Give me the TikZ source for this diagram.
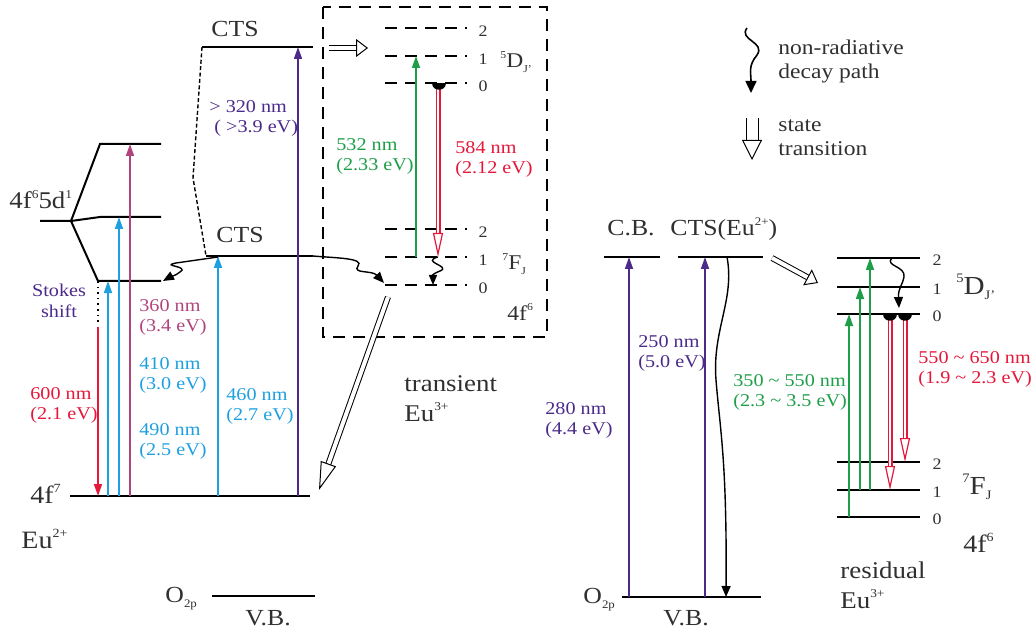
\documentclass[tikz,border=0pt]{standalone}
\usepackage{fontspec}
\setmainfont{Liberation Serif}[FakeStretch=1.12]
\usepackage{graphicx}
\usepackage{xcolor}
\definecolor{cpurple}{HTML}{4B2A8A}
\definecolor{cmag}{HTML}{B0457E}
\definecolor{cblue}{HTML}{1E9FE0}
\definecolor{cred}{HTML}{E5173A}
\definecolor{cgreen}{HTML}{1E9E48}
\definecolor{txt}{HTML}{303030}
\newcommand{\supr}[1]{\raisebox{0.95ex}{\scalebox{0.5}{#1}}}
\newcommand{\subr}[1]{\raisebox{-0.5ex}{\scalebox{0.5}{#1}}}
\usetikzlibrary{arrows.meta}
\tikzset{
  lv/.style={line width=1pt},
  dlv/.style={line width=1pt, dash pattern=on 6pt off 4pt},
  ar/.style={line width=0.8pt, -{Triangle[length=6pt,width=4pt]}},
  wv/.style={line width=0.7pt, -{Triangle[length=5.5pt,width=4.5pt]}},
  tr/.style={draw=black, double=white, line width=0.5pt, double distance=2pt,
             -{Triangle[open,length=6pt,width=9pt,line width=0.5pt]}},
  em/.style={draw=cred, double=white, line width=0.6pt, double distance=1.3pt,
             -{Triangle[open,length=12pt,width=5pt,line width=0.6pt]}},
  lbl/.style={font=\fontsize{9}{10.2}\selectfont, align=left, inner sep=0pt, anchor=north west},
  big/.style={font=\fontsize{11.5}{13}\selectfont, inner sep=0pt, anchor=base west, text=txt},
  num/.style={font=\fontsize{8}{9}\selectfont, inner sep=0pt, text=txt},
  captxt/.style={font=\fontsize{12}{15}\selectfont, align=left, inner sep=0pt, anchor=north west, text=txt},
}

\begin{document}
\begin{tikzpicture}[x=0.5pt,y=-0.5pt]
\useasboundingbox (0,0) rectangle (1031,630);

% Eu2+ levels
\coordinate (f7a) at (70,496); \coordinate (f7b) at (310,496);
\draw[lv] (f7a) -- (f7b);
\node[big, font=\fontsize{12.5}{14}\selectfont] (n4f7) at (30,503) {4f\supr{7}};
\node[big, font=\fontsize{12.5}{14}\selectfont] (neua) at (21,548) {Eu\supr{2+}};
\coordinate (vba) at (212,596);
\draw[lv] (vba) -- (315,596);
\node[big] (no2a) at (165,602) {O\subr{2p}};
\node[big] (nvba) at (245,625) {V.B.};

\coordinate (d5) at (71,221);
\coordinate (d5h) at (100,144); \coordinate (d5m) at (100,217); \coordinate (d5l) at (98,281);
\draw[lv] (40,221) -- (d5) -- (d5h) -- (161,144);
\draw[lv] (d5) -- (d5m) -- (161,217);
\draw[lv] (d5) -- (d5l) -- (161,281);
\node[big, font=\fontsize{12}{13}\selectfont] (n5d) at (9,209) {4f\supr{6}5d\supr{1}};

\coordinate (ctsA) at (202,47); \coordinate (ctsB) at (206,256);
\coordinate (ctsAr) at (313,47); \coordinate (ctsBr) at (313,256);
\draw[lv] (ctsA) -- (ctsAr);
\draw[lv] (ctsB) -- (ctsBr);
\draw[line width=0.7pt, dash pattern=on 2pt off 1.2pt] (ctsA) -- (193,178) -- (ctsB);
\node[big] (ncts1) at (211,37) {CTS};
\node[big] (ncts2) at (216,243) {CTS};

\draw[line width=0.8pt, dotted] (d5l) -- (98,325);
\draw[ar, cred] (98,327) -- (98,0 |- f7a);
\draw[ar, cblue] (108,0 |- f7a) -- (108,0 |- d5l);
\draw[ar, cblue] (119,0 |- f7a) -- (119,0 |- d5m);
\draw[ar, cmag] (130,0 |- f7a) -- (130,0 |- d5h);
\draw[ar, cblue] (218,0 |- f7a) -- (218,0 |- ctsB);
\draw[ar, cpurple] (298,0 |- f7a) -- (298,0 |- ctsA);

\draw[wv] (218,257) -- (176,263) .. controls (160,266) and (190,266) .. (180,272)
  .. controls (175,276) and (170,277) .. (163,281);
\draw[wv] (ctsBr) .. controls (335,258) and (365,258) .. (358,266)
  .. controls (352,274) and (372,270) .. (384,283);

\node[lbl, align=center, anchor=center, text=cpurple] (nst) at (59,301) {Stokes\\shift};
\node[lbl, text=cmag] (l360) at (139,299) {360 nm\\(3.4 eV)};
\node[lbl, text=cblue] (l410) at (139,357) {410 nm\\(3.0 eV)};
\node[lbl, text=cblue] (l490) at (139,423) {490 nm\\(2.5 eV)};
\node[lbl, text=cred] (l600) at (30,387) {600 nm\\(2.1 eV)};
\node[lbl, text=cblue] (l460) at (226,388) {460 nm\\(2.7 eV)};
\node[lbl, text=cpurple] (l320) at (209,100) {> 320 nm\\\ ( >3.9 eV)};

% transient Eu3+
\draw[line width=0.8pt, dash pattern=on 6pt off 4pt] (323,7) rectangle (547,337);
\draw[tr] (ctsAr) ++(16,1) coordinate (ta) -- (368,48);
\foreach \y/\j in {28/2,56/1,83/0,229/2,257/1,285/0}{
  \draw[dlv] (385,\y) -- (467,\y);
  \node[num] at (483,\y+3) {\j};
}
\node[big, font=\fontsize{10.5}{12}\selectfont] (nd5a) at (500,68) {\supr{5}D\subr{J'}};
\node[big, font=\fontsize{10.5}{12}\selectfont] (nf7a) at (502,270) {\supr{7}F\subr{J}};
\node[big, font=\fontsize{10.5}{12}\selectfont] (n4f6a) at (507,320) {4f\supr{6}};
\draw[ar, cgreen] (416,257) -- (416,56);
\draw[em] (438,83) -- (438,257);
\fill (432,83) .. controls (432,92) and (446,92) .. (446,83) -- cycle;
\draw[wv, -{Triangle[length=5pt,width=4pt]}] (438,257) .. controls (420,262) and (452,266) .. (440,271)
  .. controls (430,275) and (433,276) .. (433,285);
\node[lbl, text=cgreen] (l532) at (336,138) {532 nm\\(2.33 eV)};
\node[lbl, text=cred] (l584) at (455,141) {584 nm\\(2.12 eV)};

\coordinate (tb) at (388,297);
\draw[tr, -{Triangle[open,length=14pt,width=8pt,line width=0.5pt]}] (tb) -- (319,490);
\node[captxt] (ntr) at (404,375) {transient\\Eu\supr{3+}};

% legend
\draw[wv, line width=0.8pt, -{Triangle[length=6pt,width=5.5pt]}] (747,28) .. controls (738,40) and (766,42) .. (757,55)
  .. controls (748,66) and (751,72) .. (751,93);
\node[captxt, font=\fontsize{10.5}{12}\selectfont] (lg1) at (778,40) {non-radiative\\decay path};
\draw[tr, double distance=5.5pt, -{Triangle[open,length=10pt,width=10pt,line width=0.5pt]}] (752,118) -- (752,160);
\node[captxt, font=\fontsize{10.5}{12}\selectfont] (lg2) at (778,119) {state\\transition};

% residual Eu3+
\coordinate (cb) at (604,257); \coordinate (cts) at (678,257);
\coordinate (vbb) at (622,597);
\draw[lv] (cb) -- (660,257);
\draw[lv] (cts) -- (763,257);
\draw[lv] (vbb) -- (761,597);
\node[big] (ncb) at (607,236) {C.B.};
\node[big] (ncts3) at (670,236) {CTS(Eu\supr{2+})};
\node[big] (no2b) at (583,603) {O\subr{2p}};
\node[big] (nvbb) at (663,625) {V.B.};
\draw[ar, cpurple] (629,0 |- vbb) -- (629,0 |- cb);
\draw[ar, cpurple] (705,0 |- vbb) -- (705,0 |- cts);
\draw[wv] (727,257) .. controls (735,300) and (712,330) .. (716,380)
  .. controls (720,430) and (727,460) .. (726,597);
\draw[tr] (772,258) -- (818,283);
\node[lbl, text=cpurple] (l250) at (638,335) {250 nm\\(5.0 eV)};
\node[lbl, text=cpurple] (l280) at (545,402) {280 nm\\(4.4 eV)};

\foreach \y/\j in {258/2,287/1,314/0,462/2,490/1,517/0}{
  \draw[lv] (837,\y) -- (920,\y);
  \node[num] at (937,\y+2) {\j};
}
\node[big, font=\fontsize{13}{15}\selectfont] (nd5b) at (956,294) {\supr{5}D\subr{J'}};
\node[big, font=\fontsize{13}{15}\selectfont] (nf7b) at (962,494) {\supr{7}F\subr{J}};
\node[big, font=\fontsize{12.5}{15}\selectfont] (n4f6b) at (963,552) {4f\supr{6}};
\node[captxt] (nres) at (840,561) {residual\\Eu\supr{3+}};
\draw[ar, cgreen] (849,517) -- (849,314);
\draw[ar, cgreen] (860,490) -- (860,287);
\draw[ar, cgreen] (870,490) -- (870,258);
\draw[em] (890,314) -- (890,490);
\draw[em] (905,314) -- (905,462);
\fill (883,314) .. controls (883,323) and (897,323) .. (897,314) -- cycle;
\fill (898,314) .. controls (898,323) and (912,323) .. (912,314) -- cycle;
\draw[wv] (892,258) .. controls (884,266) and (906,266) .. (904,277)
  .. controls (903,284) and (898,288) .. (899,308);
\node[lbl, text=cgreen] (l350) at (733,374) {350 \textasciitilde{} 550 nm\\(2.3 \textasciitilde{} 3.5 eV)};
\node[lbl, text=cred] (l550) at (918,351) {550 \textasciitilde{} 650 nm\\(1.9 \textasciitilde{} 2.3 eV)};
\end{tikzpicture}
\end{document}
